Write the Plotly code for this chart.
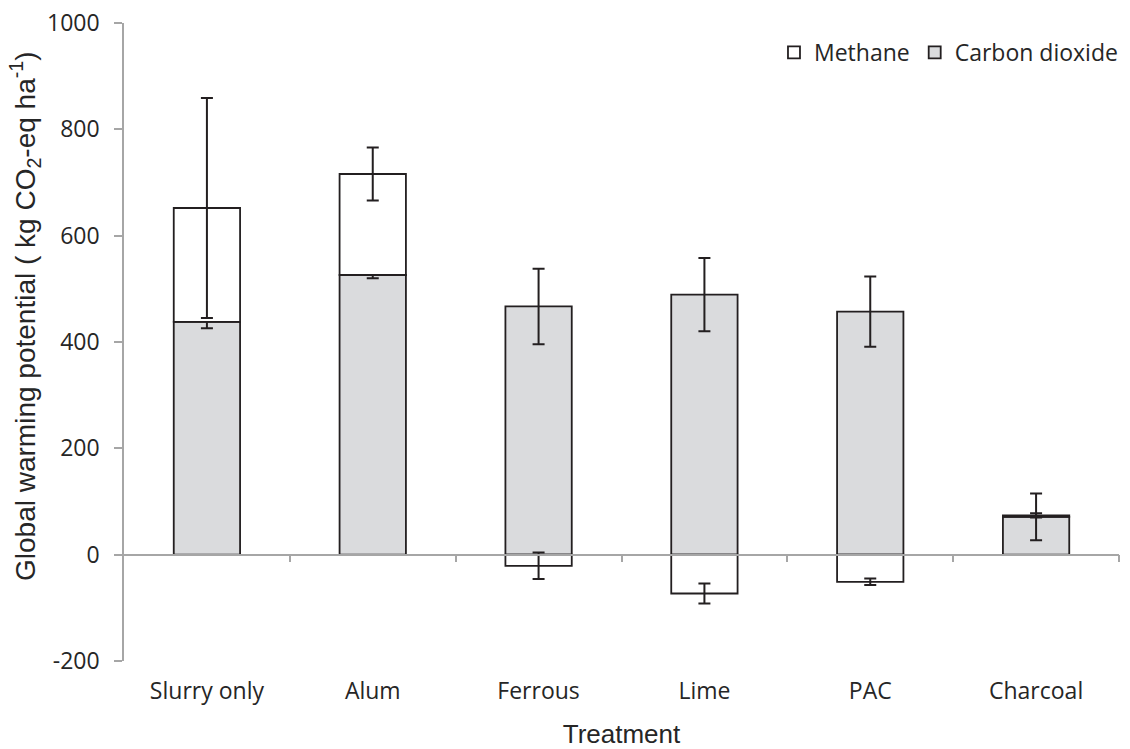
import plotly.graph_objects as go

categories = ["Slurry only", "Alum", "Ferrous", "Lime", "PAC", "Charcoal"]
co2 = [438, 526, 467, 489, 457, 71]
co2_err = [12, 6, 71, 69, 66, 44]
methane = [214, 190, -21, -73, -51, 3]
methane_err = [207, 50, 25, 19, 6, 4]
y_ticks = [-200, 0, 200, 400, 600, 800, 1000]
y_tick_text = ["-200", "0", "200", "400", "600", "800", "1000"]

dark = "#231f20"
axis_grey = "#a6a6a6"
x_idx = list(range(len(categories)))

fig = go.Figure()
fig.add_trace(go.Bar(
    x=x_idx, y=co2, name="Carbon dioxide",
    marker=dict(color="#dadbdd", line=dict(color=dark, width=1.8)),
    error_y=dict(type="data", array=co2_err, color=dark, thickness=2, width=6),
    width=0.4, legendrank=2,
))
fig.add_trace(go.Bar(
    x=x_idx, y=methane, name="Methane",
    marker=dict(color="#ffffff", line=dict(color=dark, width=1.8)),
    error_y=dict(type="data", array=methane_err, color=dark, thickness=2, width=6),
    width=0.4, legendrank=1,
))

# invisible trace to carry the free x-axis with boundary ticks at zero
fig.add_trace(go.Scatter(x=[-0.5, 5.5], y=[0, 0], xaxis="x2", mode="lines",
                         line=dict(width=0), showlegend=False, hoverinfo="skip"))

fig.update_layout(
    barmode="relative",
    width=1122, height=741,
    margin=dict(l=116, r=7, t=15, b=88),
    plot_bgcolor="white", paper_bgcolor="white",
    font=dict(family="Open Sans", color="#262626", size=23),
    showlegend=True,
    legend=dict(orientation="h", x=1.004, xanchor="right", y=0.954, yanchor="middle",
                font=dict(size=23, family="Open Sans", color="#262626"), itemwidth=30,
                tracegroupgap=0, bgcolor="rgba(0,0,0,0)"),
    xaxis=dict(
        range=[-0.5, 5.5], tickmode="array", tickvals=x_idx, ticktext=categories,
        showline=False, ticks="", showgrid=False, zeroline=False, automargin=False,
        tickfont=dict(size=23, family="Open Sans"), ticklabelstandoff=14,
        title=dict(text="Treatment", font=dict(size=26, family="Liberation Sans"), standoff=22),
    ),
    xaxis2=dict(
        overlaying="x", anchor="free", position=(0 - (-200)) / 1200, side="bottom",
        range=[-0.5, 5.5], tickmode="array", tickvals=[0.5, 1.5, 2.5, 3.5, 4.5, 5.5],
        ticks="outside", ticklen=7, tickcolor=axis_grey, tickwidth=1.5,
        showticklabels=False, showline=True, linecolor=axis_grey, linewidth=1.5,
        showgrid=False, zeroline=False, automargin=False,
    ),
    yaxis=dict(
        range=[-200, 1000], tickmode="array", tickvals=y_ticks, ticktext=y_tick_text,
        showline=True, linecolor=axis_grey, linewidth=1.5,
        ticks="outside", ticklen=8, tickcolor=axis_grey, tickwidth=1.5,
        showgrid=False, zeroline=False, automargin=False,
        tickfont=dict(size=23, family="Open Sans"), ticklabelstandoff=10,
        ticklabeloverflow="allow",
    ),
    annotations=[dict(
        text="Global warming potential ( kg CO<sub>2</sub>-eq ha<sup>-1</sup>)",
        textangle=-90, xref="paper", yref="paper", x=-0.099, y=0.54,
        xanchor="center", yanchor="middle", showarrow=False,
        font=dict(size=28, family="Liberation Sans", color="#262626"),
    )],
)

fig.write_html("out.html")
